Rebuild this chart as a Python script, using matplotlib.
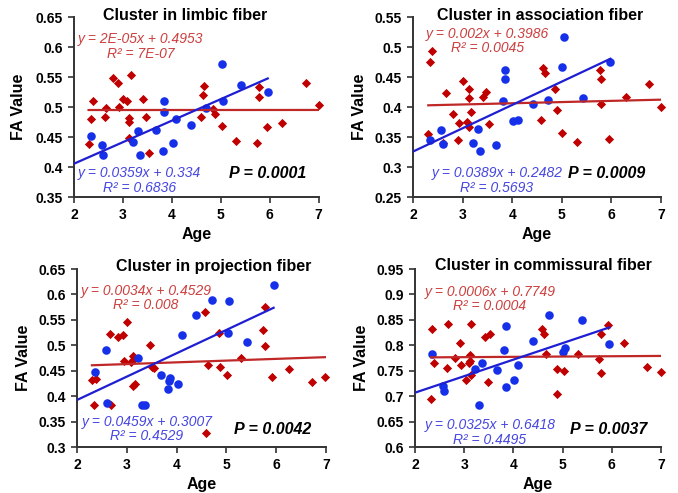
import numpy as np
import matplotlib
matplotlib.use('Agg')
import matplotlib.pyplot as plt
from matplotlib.ticker import FuncFormatter

plt.rcParams['font.family'] = ['Liberation Sans', 'DejaVu Sans']

# ---- data ----
titles = ['Cluster in limbic fiber', 'Cluster in association fiber',
          'Cluster in projection fiber', 'Cluster in commissural fiber']

# limbic
red_age_1 = [2.30, 2.34, 2.38, 2.64, 2.66, 2.79, 2.91, 2.92, 3.01, 3.08, 3.12, 3.13, 3.12, 3.16, 3.42, 3.47,
             3.53, 4.60, 4.63, 4.66, 4.85, 4.88, 5.03, 5.31, 5.75, 5.78, 5.79, 5.95, 6.26, 6.75, 7.00]
red_fa_1 = [0.438, 0.480, 0.511, 0.483, 0.499, 0.549, 0.541, 0.500, 0.513, 0.510, 0.476, 0.482, 0.449, 0.554,
            0.513, 0.484, 0.424, 0.484, 0.520, 0.535, 0.497, 0.489, 0.469, 0.444, 0.440, 0.517, 0.534, 0.467,
            0.474, 0.540, 0.504]
blue_age_1 = [2.35, 2.58, 2.59, 3.21, 3.30, 3.36, 3.68, 3.82, 3.84, 3.85, 4.03, 4.09, 4.40, 4.70, 5.02, 5.05,
              5.41, 5.96]
blue_fa_1 = [0.452, 0.437, 0.420, 0.442, 0.461, 0.421, 0.462, 0.427, 0.492, 0.510, 0.441, 0.480, 0.470, 0.498,
             0.572, 0.511, 0.537, 0.525]

# association
red_age_2 = [2.31, 2.34, 2.39, 2.61, 2.67, 2.80, 2.90, 2.93, 3.01, 3.09, 3.13, 3.13, 3.14, 3.18, 3.41, 3.47,
             3.54, 4.59, 4.62, 4.66, 4.87, 4.90, 5.01, 5.31, 5.77, 5.78, 5.79, 5.95, 6.29, 6.75, 7.00]
red_fa_2 = [0.355, 0.476, 0.493, 0.341, 0.424, 0.389, 0.345, 0.374, 0.443, 0.376, 0.367, 0.415, 0.430, 0.392,
            0.417, 0.425, 0.372, 0.378, 0.465, 0.457, 0.431, 0.396, 0.357, 0.342, 0.462, 0.447, 0.406, 0.347,
            0.417, 0.438, 0.401]
blue_age_2 = [2.35, 2.57, 2.60, 3.21, 3.31, 3.36, 3.67, 3.82, 3.85, 3.85, 4.02, 4.11, 4.41, 4.73, 5.01, 5.05,
              5.43, 5.98]
blue_fa_2 = [0.345, 0.362, 0.338, 0.341, 0.363, 0.327, 0.337, 0.410, 0.447, 0.462, 0.377, 0.379, 0.406, 0.412,
             0.467, 0.517, 0.415, 0.476]

# projection
red_age_3 = [2.30, 2.34, 2.38, 2.67, 2.69, 2.83, 2.93, 2.95, 3.01, 3.08, 3.12, 3.13, 3.12, 3.16, 3.46, 3.50,
             3.55, 4.58, 4.60, 4.64, 4.86, 4.88, 5.01, 5.29, 5.73, 5.77, 5.77, 5.91, 6.25, 6.72, 6.99]
red_fa_3 = [0.432, 0.383, 0.434, 0.523, 0.382, 0.516, 0.520, 0.469, 0.546, 0.468, 0.472, 0.478, 0.420, 0.424,
            0.501, 0.458, 0.456, 0.565, 0.327, 0.462, 0.524, 0.457, 0.441, 0.476, 0.531, 0.575, 0.498, 0.438,
            0.454, 0.427, 0.438]
blue_age_3 = [2.36, 2.58, 2.60, 3.23, 3.31, 3.36, 3.68, 3.82, 3.85, 3.86, 4.02, 4.10, 4.40, 4.72, 5.03, 5.05,
              5.42, 5.95]
blue_fa_3 = [0.448, 0.490, 0.386, 0.475, 0.383, 0.382, 0.442, 0.415, 0.429, 0.436, 0.423, 0.521, 0.559, 0.590,
             0.524, 0.588, 0.507, 0.619]

# commissural
red_age_4 = [2.35, 2.39, 2.33, 2.68, 2.65, 2.82, 2.92, 2.93, 3.03, 3.14, 3.12, 3.09, 3.14, 3.12, 3.43, 3.53,
             3.48, 4.59, 4.62, 4.66, 4.88, 4.88, 5.03, 5.31, 5.78, 5.74, 5.78, 5.92, 6.25, 6.71, 6.99]
red_fa_4 = [0.833, 0.765, 0.694, 0.842, 0.755, 0.776, 0.805, 0.762, 0.731, 0.842, 0.780, 0.765, 0.741, 0.770,
            0.816, 0.823, 0.727, 0.833, 0.823, 0.782, 0.754, 0.704, 0.750, 0.782, 0.823, 0.774, 0.746, 0.840,
            0.804, 0.758, 0.748]
blue_age_4 = [2.35, 2.58, 2.60, 3.22, 3.31, 3.36, 3.67, 3.80, 3.84, 3.84, 4.02, 4.09, 4.39, 4.72, 5.01, 5.05,
              5.40, 5.95]
blue_fa_4 = [0.782, 0.720, 0.710, 0.754, 0.682, 0.766, 0.751, 0.790, 0.837, 0.718, 0.731, 0.761, 0.808, 0.859,
             0.786, 0.795, 0.850, 0.803]

# trendline coefficients as printed (slope, intercept, r2 text)
red_slope = [2e-05, 0.002, 0.0034, 0.0006]
red_icpt = [0.4953, 0.3986, 0.4529, 0.7749]
red_eq = ['y = 2E-05x + 0.4953\nR² = 7E-07', 'y = 0.002x + 0.3986\nR² = 0.0045',
          'y = 0.0034x + 0.4529\nR² = 0.008', 'y = 0.0006x + 0.7749\nR² = 0.0004']
blue_slope = [0.0359, 0.0389, 0.0459, 0.0325]
blue_icpt = [0.334, 0.2482, 0.3007, 0.6418]
blue_eq = ['y = 0.0359x + 0.334\nR² = 0.6836', 'y = 0.0389x + 0.2482\nR² = 0.5693',
           'y = 0.0459x + 0.3007\nR² = 0.4529', 'y = 0.0325x + 0.6418\nR² = 0.4495']
p_text = ['P = 0.0001', 'P = 0.0009', 'P = 0.0042', 'P = 0.0037']
ylims = [(0.35, 0.65), (0.25, 0.55), (0.30, 0.65), (0.60, 0.95)]

red_ages = [red_age_1, red_age_2, red_age_3, red_age_4]
red_fas = [red_fa_1, red_fa_2, red_fa_3, red_fa_4]
blue_ages = [blue_age_1, blue_age_2, blue_age_3, blue_age_4]
blue_fas = [blue_fa_1, blue_fa_2, blue_fa_3, blue_fa_4]

# ---- layout ----
positions = [[0.109, 0.600, 0.361, 0.365], [0.609, 0.600, 0.366, 0.365],
             [0.1136, 0.0933, 0.367, 0.361], [0.612, 0.0933, 0.363, 0.361]]
title_xy = [(0.453, 1.012), (0.512, 1.012), (0.55, 1.013), (0.522, 1.018)]
red_txt_xy = [(0.273, 0.836), (0.302, 0.867), (0.277, 0.837), (0.305, 0.831)]
blue_txt_xy = [(0.267, 0.094), (0.339, 0.094), (0.281, 0.101), (0.305, 0.081)]
p_xy = [(0.792, 0.133), (0.782, 0.133), (0.787, 0.101), (0.789, 0.101)]
ylab_x = [-0.195, -0.186, -0.184, -0.186]

RED_MK = '#C00000'
RED_LN = '#C02828'
RED_TX = '#CC3F3F'
BLUE_MK = '#1530E8'
BLUE_LN = '#1E1ED2'
BLUE_TX = '#4646E0'

fig = plt.figure(figsize=(6.78, 4.93), dpi=100)

for i in range(4):
    ax = fig.add_axes(positions[i])
    ra = np.array(red_ages[i])
    ba = np.array(blue_ages[i])

    ax.scatter(ra, red_fas[i], marker='D', s=22, color=RED_MK, linewidths=0, zorder=2, clip_on=False)
    ax.scatter(ba, blue_fas[i], marker='o', s=38, color=BLUE_MK, linewidths=0, zorder=2, clip_on=False)

    xr = np.array([ra.min(), ra.max()])
    ax.plot(xr, red_slope[i] * xr + red_icpt[i], color=RED_LN, lw=1.6, zorder=3)
    xb = np.array([2.0, ba.max()])
    ax.plot(xb, blue_slope[i] * xb + blue_icpt[i], color=BLUE_LN, lw=1.6, zorder=3)

    ax.set_xlim(2, 7)
    ax.set_ylim(*ylims[i])
    ax.set_xticks(np.arange(2, 8, 1))
    ax.set_yticks(np.arange(ylims[i][0], ylims[i][1] + 0.001, 0.05))
    ax.yaxis.set_major_formatter(FuncFormatter(lambda v, p: '%g' % round(v, 2)))
    for s in ['top', 'right']:
        ax.spines[s].set_visible(False)
    for s in ['left', 'bottom']:
        ax.spines[s].set_color('#333333')
        ax.spines[s].set_linewidth(1.4)
    ax.tick_params(direction='out', length=4, width=1.2, color='#333333', labelsize=10, pad=4)
    for lb in ax.get_xticklabels() + ax.get_yticklabels():
        lb.set_fontweight('bold')

    ax.set_xlabel('Age', fontsize=11.5, fontweight='bold')
    ax.set_ylabel('FA Value', fontsize=11.5, fontweight='bold')
    ax.xaxis.set_label_coords(0.5, -0.167)
    ax.yaxis.set_label_coords(ylab_x[i], 0.5)

    ax.text(title_xy[i][0], title_xy[i][1], titles[i], transform=ax.transAxes, ha='center', va='center',
            fontsize=11.5, fontweight='bold')
    ax.text(red_txt_xy[i][0], red_txt_xy[i][1], red_eq[i], transform=ax.transAxes, ha='center', va='center',
            multialignment='center', fontsize=10, style='italic', color=RED_TX, linespacing=1.05)
    ax.text(blue_txt_xy[i][0], blue_txt_xy[i][1], blue_eq[i], transform=ax.transAxes, ha='center',
            va='center', multialignment='center', fontsize=10, style='italic', color=BLUE_TX,
            linespacing=1.05)
    ax.text(p_xy[i][0], p_xy[i][1], p_text[i], transform=ax.transAxes, ha='center', va='center',
            fontsize=11.5, fontweight='bold', style='italic', color='black')

fig.savefig('out.png', dpi=100)
